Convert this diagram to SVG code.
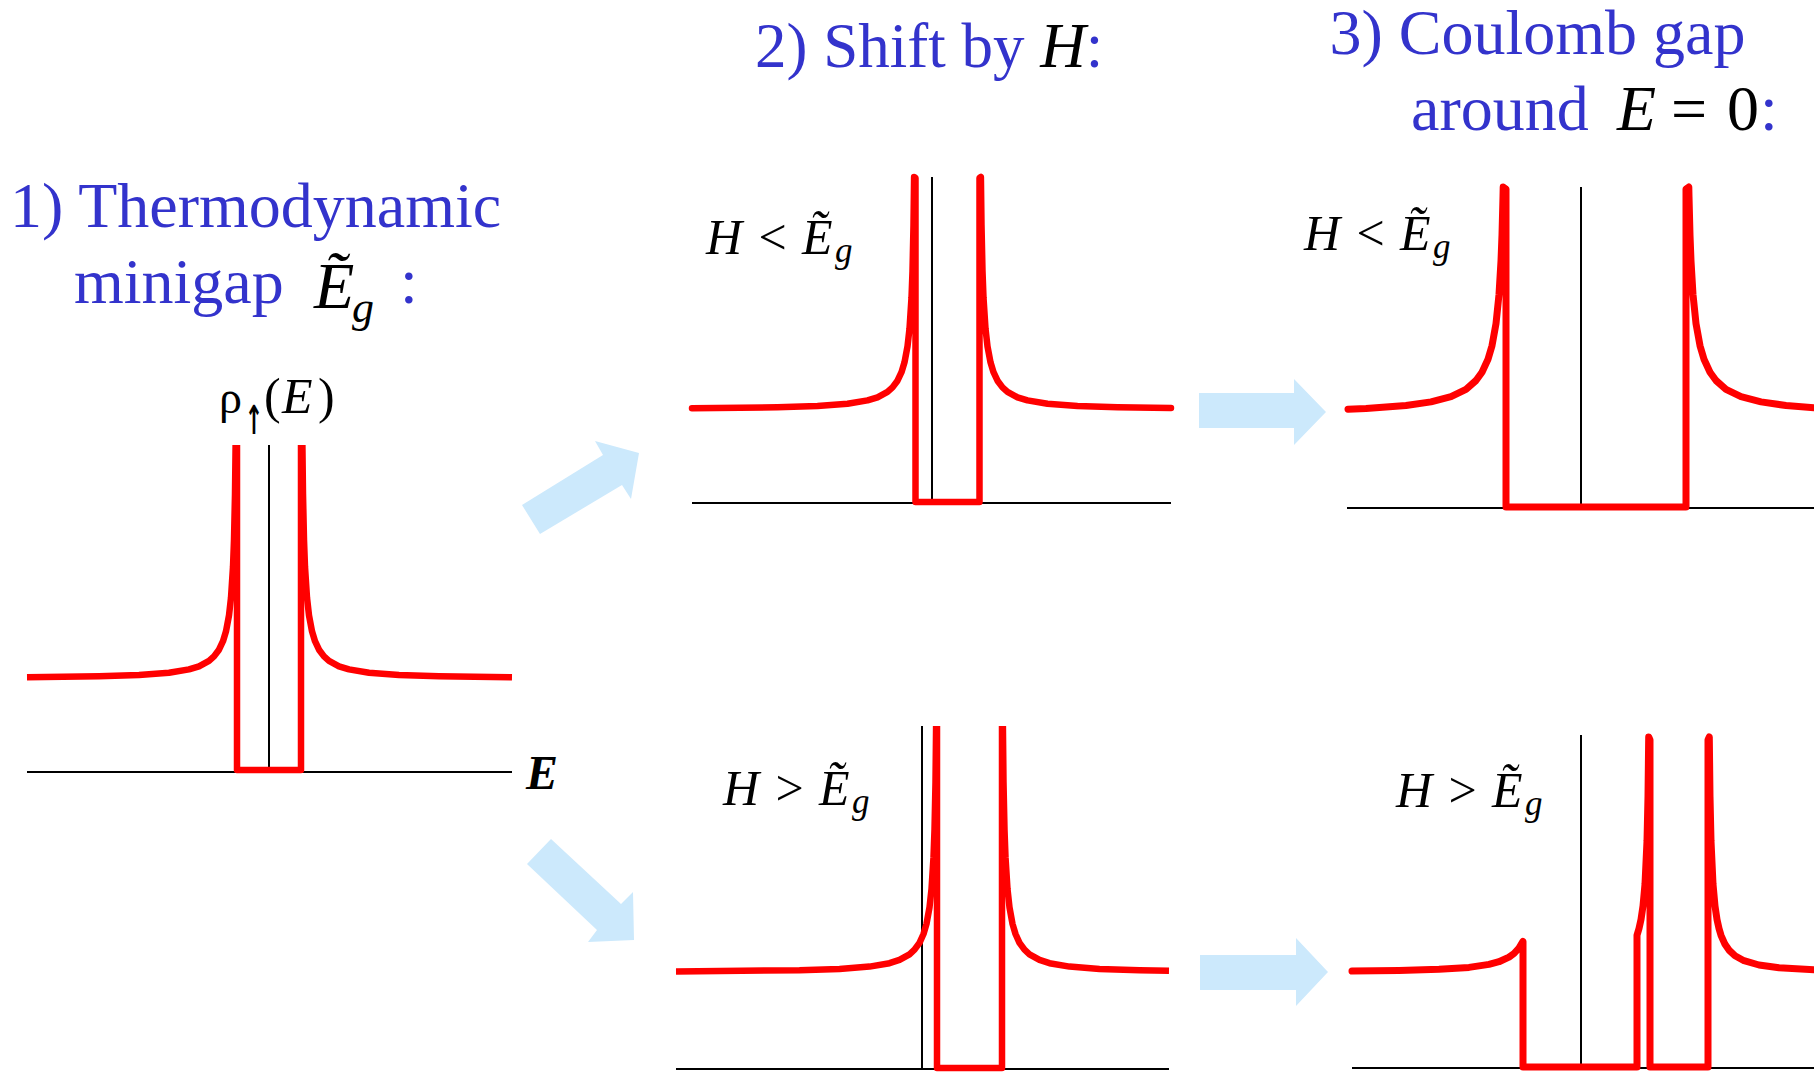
<svg xmlns="http://www.w3.org/2000/svg" width="1814" height="1072" viewBox="0 0 1814 1072">
<style>
text{font-family:"Liberation Serif","Times New Roman",serif;fill:#000}
.b{fill:#3333cc}
.it{font-style:italic}
.t1{font-size:64px}
.lb{font-size:50px}
.sub{font-size:35px;font-style:italic}
.red{fill:none;stroke:#ff0000;stroke-width:6.5;stroke-linejoin:round;stroke-linecap:round}
.redb{fill:none;stroke:#ff0000;stroke-width:6.5;stroke-linejoin:round;stroke-linecap:butt}
.ax{fill:none;stroke:#000;stroke-width:2}
.arr{fill:#cce9fc}
</style>
<rect width="1814" height="1072" fill="#fff"/>

<g id="titles">
<text x="10" y="227" class="b" font-size="64">1) Thermodynamic</text>
<text x="74" y="303" class="b" font-size="64">minigap</text>
<text x="314" y="308" class="it" font-size="66">Ẽ</text>
<text x="352" y="322" class="it" font-size="44">g</text>
<text x="400" y="303" class="b" font-size="64">:</text>

<text x="755" y="67" font-size="63"><tspan class="b">2) Shift by </tspan><tspan class="it">H</tspan><tspan class="b">:</tspan></text>

<text x="1329.5" y="54" class="b t1">3) Coulomb gap</text>
<text x="1411" y="130" class="b t1">around</text>
<text x="1617" y="130" class="it t1">E</text>
<text x="1671" y="130" class="t1">=</text>
<text x="1727" y="130" class="t1">0</text>
<text x="1760" y="130" class="b t1">:</text>
</g>

<g id="panel1">
<line class="ax" x1="27" y1="772" x2="512" y2="772"/>
<line class="ax" x1="269" y1="445" x2="269" y2="772"/>
<path class="redb" d="M27,677.2 L99,676.3 L139,675 L169,672.8 L189,669.4 L199,666.3 L209,660.9 L214,656.4 L219,649.7 L223,641.2 L226,631.3 L229,615.3 L231,597.7 L233,566.8 L234,539.9 L235,493.8 L235.6,445"/>
<path class="redb" d="M237,445 L237,770 L301,770 L301,445"/>
<path class="redb" d="M302.4,445 L303,493.8 L304,539.9 L305,566.8 L307,597.7 L309,615.3 L312,631.3 L315,641.2 L319,649.7 L324,656.4 L329,660.9 L339,666.3 L349,669.4 L369,672.8 L399,675 L439,676.3 L512,677.2"/>
<text x="219" y="413" font-size="46">ρ</text>
<text transform="translate(254,434) scale(0.55,1)" font-weight="bold" font-size="40" text-anchor="middle" style="font-family:'DejaVu Sans',sans-serif">↑</text>
<text x="264" y="413" font-size="50">(</text>
<text x="282" y="413" class="it" font-size="50">E</text>
<text x="318" y="413" font-size="50">)</text>
<text x="526" y="789" class="it" font-size="48" font-weight="bold">E</text>
</g>

<g id="panel2top">
<line class="ax" x1="692" y1="503" x2="1171" y2="503"/>
<line class="ax" x1="932" y1="177" x2="932" y2="503"/>
<path class="red" d="M692,408.2 L777.5,407.3 L817.5,406 L847.5,403.8 L867.5,400.4 L877.5,397.3 L887.5,391.9 L892.5,387.4 L897.5,380.7 L901.5,372.2 L904.5,362.3 L907.5,346.3 L909.5,328.7 L911.5,297.8 L912.5,271 L913.5,224.9 L914.1,177 L915.5,178 L915.5,502 L979.5,502 L979.5,178 L980.9,177 L981.5,224.9 L982.5,271 L983.5,297.8 L985.5,328.7 L987.5,346.3 L990.5,362.3 L993.5,372.2 L997.5,380.7 L1002.5,387.4 L1007.5,391.9 L1017.5,397.3 L1027.5,400.4 L1047.5,403.8 L1077.5,406 L1117.5,407.3 L1171,408"/>
<text x="706" y="254" class="it lb">H</text>
<text x="758.5" y="254" class="lb">&lt;</text>
<text x="802" y="254" class="it lb">Ẽ</text>
<text x="835" y="262" class="sub">g</text>
</g>

<g id="panel2bottom">
<line class="ax" x1="676" y1="1069" x2="1169" y2="1069"/>
<line class="ax" x1="922" y1="726" x2="922" y2="1069"/>
<path class="redb" d="M676,971.4 L799.5,970.2 L839.5,968.9 L869.5,966.6 L889.5,963.2 L899.5,959.9 L909.5,954.3 L914.5,949.7 L919.5,942.8 L923.5,934 L926.5,923.8 L929.5,907.3 L931.5,889.2 L933.5,857.2 L934.5,829.6 L935.5,782 L936.1,726"/>
<path class="redb" d="M937,726 L937,1068 L1002,1068 L1002,726"/>
<path class="redb" d="M1002.9,726 L1003.5,782 L1004.5,829.6 L1005.5,857.2 L1007.5,889.2 L1009.5,907.3 L1012.5,923.8 L1015.5,934 L1019.5,942.8 L1024.5,949.7 L1029.5,954.3 L1039.5,959.9 L1049.5,963.2 L1069.5,966.6 L1099.5,968.9 L1139.5,970.2 L1169,970.7"/>
<text x="723" y="805" class="it lb">H</text>
<text x="775.5" y="805" class="lb">&gt;</text>
<text x="819" y="805" class="it lb">Ẽ</text>
<text x="852" y="813" class="sub">g</text>
</g>

<g id="panel3top">
<line class="ax" x1="1347" y1="508" x2="1814" y2="508"/>
<line class="ax" x1="1581" y1="187" x2="1581" y2="508"/>
<path class="red" style="stroke-width:7" d="M1348,409.2 L1366,408.4 L1406,405.5 L1431,401.9 L1451,396.7 L1466,389.3 L1476,380.5 L1482,372.2 L1488,359.3 L1492,345.7 L1496,323.6 L1499,294.5 L1501,261 L1502,235 L1503,196.4 L1503.2,187 L1506,189 L1506,507 L1686,507 L1686,189 L1688.8,187 L1689,196.4 L1690,235 L1691,261 L1693,294.5 L1696,323.6 L1700,345.7 L1704,359.3 L1710,372.2 L1716,380.5 L1726,389.3 L1741,396.7 L1761,401.9 L1786,405.5 L1814,407.8"/>
<text x="1304" y="250" class="it lb">H</text>
<text x="1356.5" y="250" class="lb">&lt;</text>
<text x="1400" y="250" class="it lb">Ẽ</text>
<text x="1433" y="258" class="sub">g</text>
</g>

<g id="panel3bottom">
<line class="ax" x1="1352" y1="1068" x2="1814" y2="1068"/>
<line class="ax" x1="1581" y1="735" x2="1581" y2="1068"/>
<path class="red" style="stroke-width:7" d="M1352,971.1 L1399,970.5 L1439,969.3 L1469,967.4 L1489,964.4 L1499,961.7 L1509,957.1 L1514,953.5 L1519,948 L1523,941.4 L1523,1067 L1637,1067 L1637,935.3 L1639,928.6 L1641,919.5 L1643,906 L1645,884.1 L1647,841 L1648,796.3 L1648.7,737 L1650,740 L1650,1067 L1708,1067 L1708,740 L1709.3,737 L1710,796.3 L1711,841 L1713,884.1 L1715,906 L1717,919.5 L1719,928.6 L1721,935.3 L1725,944.3 L1729,950.1 L1735,955.8 L1744,960.7 L1759,965 L1779,967.7 L1814,969.7"/>
<text x="1396" y="807" class="it lb">H</text>
<text x="1448.5" y="807" class="lb">&gt;</text>
<text x="1492" y="807" class="it lb">Ẽ</text>
<text x="1525" y="815" class="sub">g</text>
</g>

<g id="connectors">
<polygon class="arr" points="522,505 603,455 595,441 639,453 631,499 622,485 540,534"/>
<polygon class="arr" points="527,864 551,839 621,904 633,892 634,940 588,942 597,930"/>
<polygon class="arr" points="1199,393 1294,393 1294,379 1326,412 1294,445 1294,428 1199,428"/>
<polygon class="arr" points="1200,955 1296,955 1296,938 1328,972 1296,1006 1296,990 1200,990"/>
</g>
</svg>
